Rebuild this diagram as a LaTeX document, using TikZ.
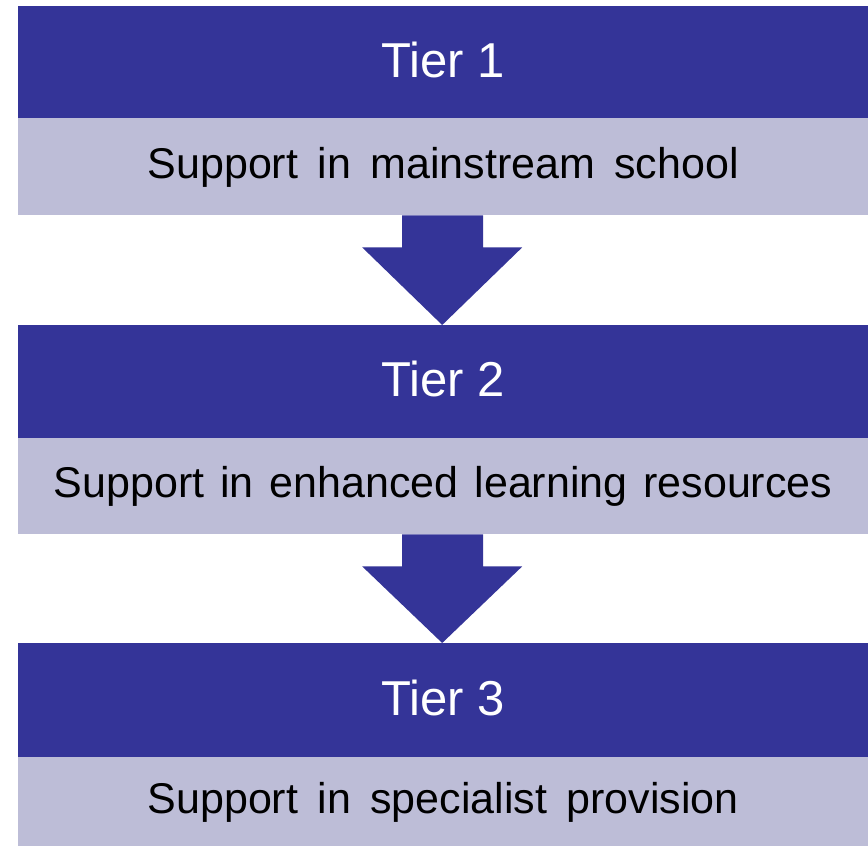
\documentclass[tikz,border=0pt]{standalone}
\usepackage{fontspec}
\setmainfont{Liberation Sans}
\usetikzlibrary{calc}
\definecolor{tierblue}{RGB}{52,52,152}
\definecolor{tierlight}{RGB}{189,189,215}
\newcommand\bodyspace{\spaceskip=0.45em\relax}
\newcommand\narrowbodyspace{\spaceskip=0.37em\relax}
\tikzset{
  tierhead/.style={fill=tierblue, text=white, inner sep=0pt, anchor=north west,
    minimum width=850pt, text height=35.5pt, text depth=4.5pt,
    font=\fontsize{49}{56}\selectfont},
  tierbody/.style={fill=tierlight, text=black, inner sep=0pt, anchor=north west,
    minimum width=850pt, text height=31pt, text depth=7pt,
    font=\fontsize{43}{50}\selectfont, execute at begin node=\bodyspace},
  narrowbody/.style={tierbody, execute at begin node=\narrowbodyspace},
}
\begin{document}
\begin{tikzpicture}[x=1pt,y=-1pt]
\useasboundingbox (0,0) rectangle (868,846);
\fill[white] (0,0) rectangle (868,846);
\node[tierhead, minimum height=112pt] (t1) at (18,6) {Tier 1};
\node[tierbody, minimum height=97pt] (s1) at (18,118) {Support in mainstream school};
\node[tierhead, minimum height=112.5pt] (t2) at (18,325) {Tier 2};
\node[narrowbody, minimum height=96.5pt] (s2) at (18,437.5) {Support in enhanced learning resources};
\node[tierhead, minimum height=114pt] (t3) at (18,643) {Tier 3};
\node[tierbody, minimum height=89pt] (s3) at (18,757) {Support in specialist provision};
\foreach \a/\b in {s1/t2, s2/t3}{
  \fill[tierblue] ($(\a.south)+(-41,0)$) -- ($(\a.south)+(40,0)$) -- ($(\a.south)+(40,32)$)
    -- ($(\a.south)+(79,32)$) -- ($(\b.north)+(-1,0)$) -- ($(\a.south)+(-81,32)$)
    -- ($(\a.south)+(-41,32)$) -- cycle;
}
\end{tikzpicture}
\end{document}
